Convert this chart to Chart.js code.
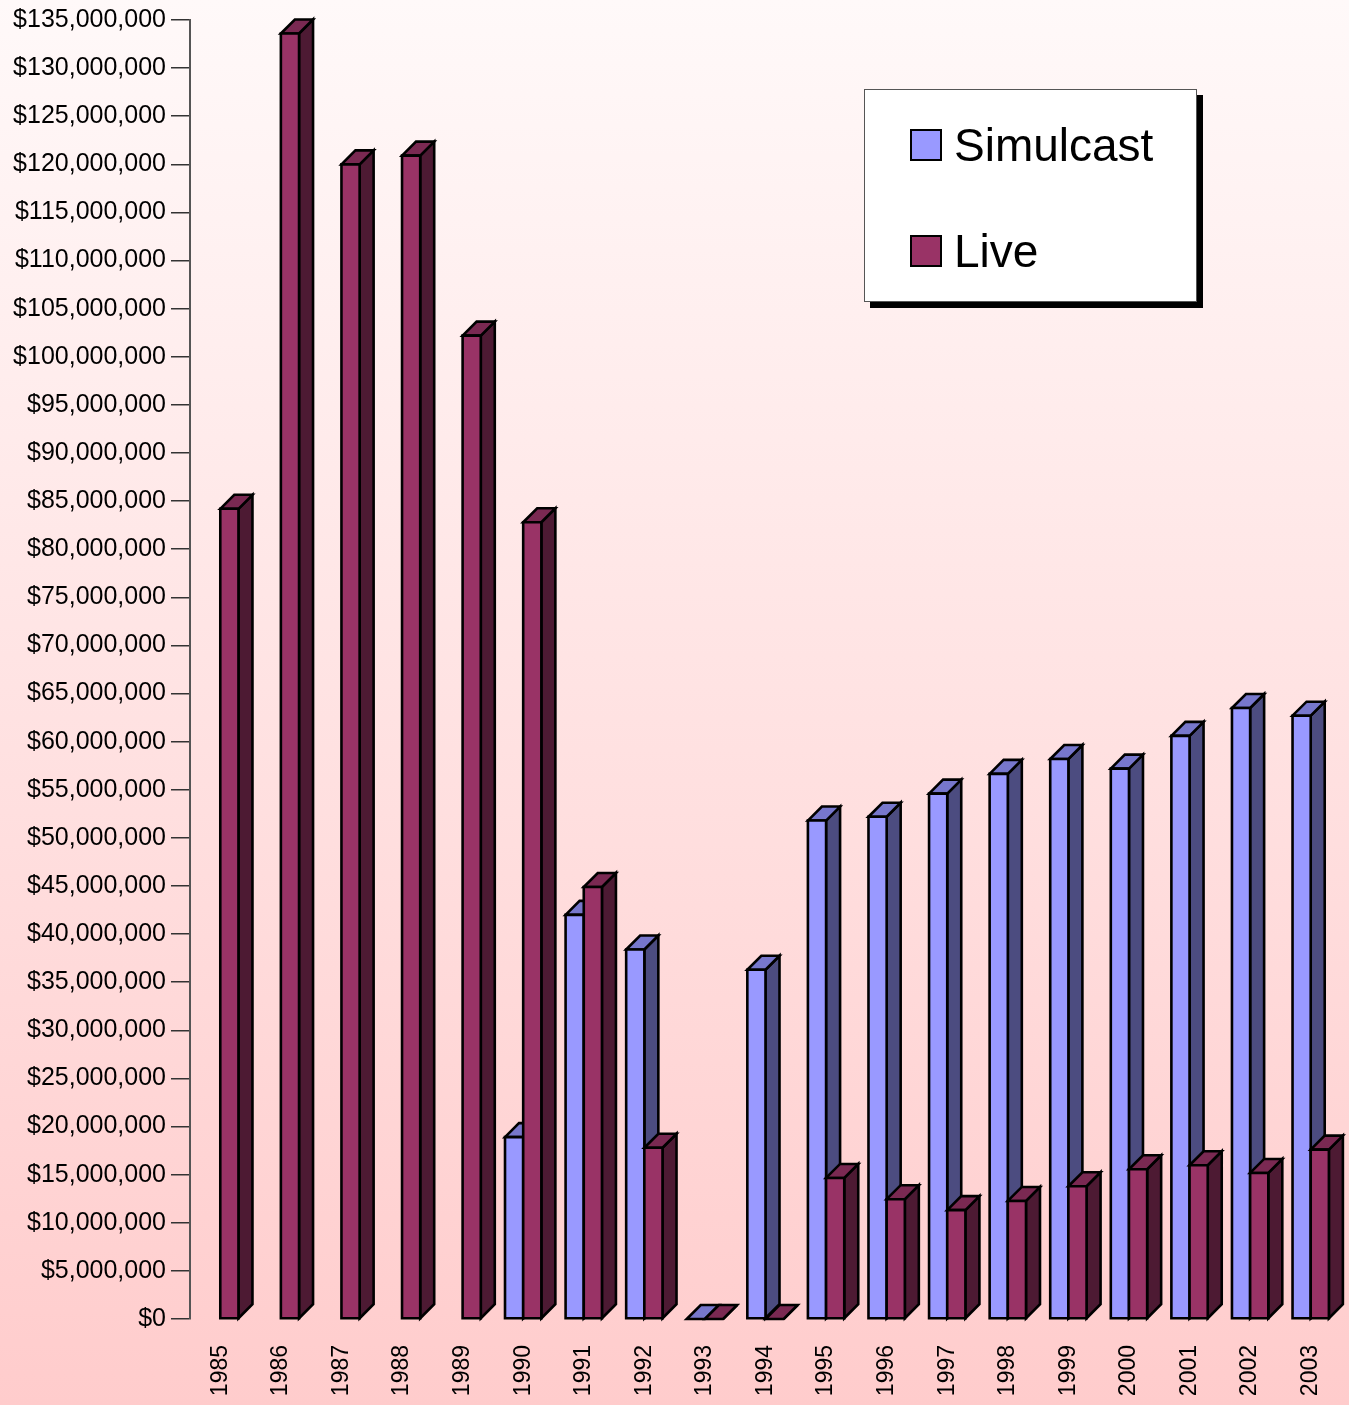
<!DOCTYPE html>
<html>
<head>
<meta charset="utf-8">
<script src="https://cdn.jsdelivr.net/npm/chart.js@4"></script>
<style>
  html, body { margin: 0; padding: 0; }
  body { width: 1349px; height: 1405px; background: linear-gradient(to bottom, #fff9f9 0%, #ffcccc 100%); position: relative; overflow: hidden; }
  #wrap { position: absolute; left: 0; top: 0; width: 1349px; height: 1405px; }
  #legend { position: absolute; left: 864px; top: 89px; width: 331px; height: 211px; background: #fff; border: 1px solid #555; box-shadow: 6px 6px 0 #000; font-family: "Liberation Sans", Arial, sans-serif; font-size: 46px; color: #000; }
  #legend .item { position: absolute; left: 45px; display: flex; align-items: center; }
  #legend .sw { width: 28px; height: 28px; border: 2px solid #000; margin-right: 12px; }
</style>
</head>
<body>
<div id="wrap"><canvas id="myChart"></canvas></div>
<div id="legend">
  <div class="item" style="top:28px"><span class="sw" style="background:#9999ff"></span>Simulcast</div>
  <div class="item" style="top:134px"><span class="sw" style="background:#993366"></span>Live</div>
</div>
<script>
const ctx = document.getElementById('myChart').getContext('2d');

// years on the x axis
const years = ['1985','1986','1987','1988','1989','1990','1991','1992','1993','1994',
               '1995','1996','1997','1998','1999','2000','2001','2002','2003'];

// handle in dollars
const simulcast = [null, null, null, null, null, 18900000, 42000000, 38400000, 0, 36300000,
                   51800000, 52200000, 54600000, 56650000, 58200000, 57200000, 60600000, 63500000, 62700000];
const live = [84200000, 133600000, 120000000, 120900000, 102200000, 82800000, 44900000, 17800000, 0, 0,
              14660000, 12450000, 11310000, 12270000, 13800000, 15560000, 15980000, 15180000, 17600000];

const yMax = 135000000;
const yStep = 5000000;

// front / top / side colours per series
const faces = [
  { front: '#9999ff', top: '#7777cc', side: '#4c4c80' },
  { front: '#993366', top: '#7a2952', side: '#4d1a33' }
];

const depthX = 14, depthY = 14;

// draws every bar as a little box, category by category so the live bar sits in front
const bars3d = {
  id: 'bars3d',
  afterDatasetsDraw(chart) {
    const c = chart.ctx;
    c.save();
    c.lineWidth = 2.6;
    c.strokeStyle = '#000';
    c.lineJoin = 'miter';
    for (let i = 0; i < years.length; i++) {
      chart.data.datasets.forEach((ds, d) => {
        if (ds.data[i] === null) return;
        const bar = chart.getDatasetMeta(d).data[i];
        const w = bar.width;
        const x0 = bar.x - w / 2, x1 = bar.x + w / 2;
        const top = bar.y, base = bar.base;
        const col = faces[d];
        // side
        c.beginPath();
        c.moveTo(x1, base); c.lineTo(x1 + depthX, base - depthY);
        c.lineTo(x1 + depthX, top - depthY); c.lineTo(x1, top); c.closePath();
        c.fillStyle = col.side; c.fill(); c.stroke();
        // top
        c.beginPath();
        c.moveTo(x0, top); c.lineTo(x0 + depthX, top - depthY);
        c.lineTo(x1 + depthX, top - depthY); c.lineTo(x1, top); c.closePath();
        c.fillStyle = col.top; c.fill(); c.stroke();
        // front
        if (base - top > 0) {
          c.beginPath();
          c.rect(x0, top, w, base - top);
          c.fillStyle = col.front; c.fill(); c.stroke();
        }
      });
    }
    c.restore();
  }
};

new Chart(ctx, {
  type: 'bar',
  data: {
    labels: years,
    datasets: [
      { label: 'Simulcast', data: simulcast, backgroundColor: 'rgba(0,0,0,0)', borderWidth: 0,
        categoryPercentage: 0.6, barPercentage: 1.0 },
      { label: 'Live', data: live, backgroundColor: 'rgba(0,0,0,0)', borderWidth: 0,
        categoryPercentage: 0.6, barPercentage: 1.0 }
    ]
  },
  options: {
    responsive: true,
    maintainAspectRatio: false,
    animation: false,
    layout: { padding: { top: 18, right: 8, left: 0, bottom: 0 } },
    plugins: { legend: { display: false }, tooltip: { enabled: false } },
    scales: {
      x: {
        grid: { display: false, drawTicks: false },
        border: { display: false },
        ticks: {
          minRotation: 90, maxRotation: 90, padding: 26, autoSkip: false,
          color: '#000', font: { family: 'Liberation Sans', size: 23 }
        },
        afterFit(scale) {
          scale.height = 86;
          scale.paddingLeft = 0;
          scale.paddingRight = 0;
        }
      },
      y: {
        min: 0, max: yMax,
        grid: { drawOnChartArea: false, drawTicks: true, tickLength: 19, color: '#333', lineWidth: 1.5 },
        border: { display: true, color: '#555', width: 2 },
        ticks: {
          stepSize: yStep, padding: 5, color: '#000',
          font: { family: 'Liberation Sans', size: 25 },
          callback: v => '$' + v.toLocaleString('en-US')
        },
        afterFit(scale) { scale.width = 190; }
      }
    }
  },
  plugins: [bars3d]
});
</script>
</body>
</html>
